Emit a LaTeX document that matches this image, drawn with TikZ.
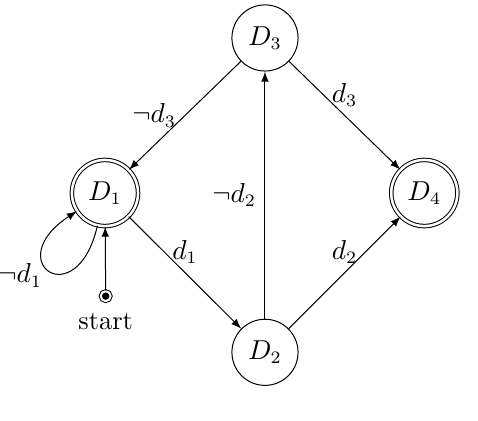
\documentclass[tikz,border=0pt]{standalone}
\usepackage{amssymb}
\usepackage{tikz}
\tikzstyle{st} = [draw=black, circle, minimum size=9.3mm, inner sep=0pt]
\tikzstyle{final} = [double, double distance=1pt]
\tikzstyle{startdot} = [draw=black, fill=black, circle, double, double distance=0.8pt, inner sep=1.4pt]
\tikzstyle{trans} = [->, >=latex]

\begin{document}
\begin{tikzpicture}[every node/.style={font=\fontsize{10.6pt}{13pt}\selectfont}]
  \useasboundingbox (-1.476,-3.192) rectangle (5.245,2.714);
  \node[st,final](1) at (0,0){$D_1$};
  \node[st](2) at (2.25,-2.24){$D_2$};
  \node[st](3) at (2.25,2.18){$D_3$};
  \node[st,final](4) at (4.49,0){$D_4$};
  \node[startdot](s) at (0.01,-1.45){};
  \node(startlabel) at (0.01,-1.81){start};
  \draw[trans](s)--(1);
  \draw[trans](1) to[out=257,in=213,distance=13mm] node[pos=0.62,below left,inner sep=0.5pt]{$\neg d_1$} (1);
  \draw[trans](3)--node[left]{$\neg d_3$}(1);
  \draw[trans](3)--node[above]{$d_3$}(4);
  \draw[trans](1)--node[above]{$d_1$}(2);
  \draw[trans](2)--node[left]{$\neg d_2$}(3);
  \draw[trans](2)--node[above]{$d_2$}(4);
\end{tikzpicture}
\end{document}
